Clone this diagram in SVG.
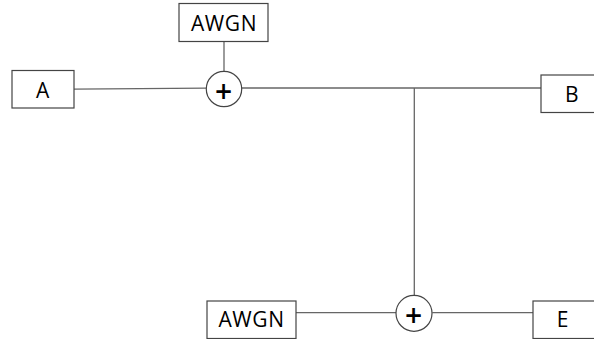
<svg xmlns="http://www.w3.org/2000/svg" width="594" height="339" viewBox="0 0 594 339">
  <style>
    .box { fill: #ffffff; stroke: #444444; stroke-width: 1.2; }
    .sum { fill: #ffffff; stroke: #444444; stroke-width: 1.2; }
    .wire { fill: none; stroke: #666666; stroke-width: 1.3; }
    .label { font-family: "Open Sans", "Noto Sans", sans-serif; font-size: 21px; fill: #000000; text-anchor: middle; letter-spacing: 0.6px; }
    .plus { font-family: "Open Sans", "Noto Sans", sans-serif; font-size: 30px; font-weight: 600; fill: #000000; text-anchor: middle; }
  </style>
  <rect width="594" height="339" fill="#ffffff"/>

  <g id="connectors">
    <line class="wire" x1="74" y1="89.2" x2="206" y2="88.2"/>
    <line class="wire" x1="224" y1="41.5" x2="224" y2="71"/>
    <line class="wire" x1="242" y1="88" x2="541" y2="88"/>
    <line class="wire" x1="414.3" y1="88" x2="414.3" y2="295.5"/>
    <line class="wire" x1="296" y1="312.7" x2="396" y2="312.7"/>
    <line class="wire" x1="432.3" y1="312.7" x2="533" y2="312.7"/>
  </g>

  <g id="node-a">
    <rect class="box" x="12" y="70.5" width="62" height="37.5"/>
    <text class="label" x="43" y="97.5">A</text>
  </g>

  <g id="node-awgn-top">
    <rect class="box" x="179" y="3.5" width="89" height="38"/>
    <text class="label" x="224" y="30.5">AWGN</text>
  </g>

  <g id="node-sum-top">
    <circle class="sum" cx="224" cy="89" r="17.7"/>
    <text class="plus" x="223.5" y="101.5">+</text>
  </g>

  <g id="node-b">
    <rect class="box" x="541" y="75" width="60" height="37.5"/>
    <text class="label" x="572" y="101.5">B</text>
  </g>

  <g id="node-awgn-bottom">
    <rect class="box" x="207" y="301" width="89" height="37.5"/>
    <text class="label" x="251.5" y="326.5">AWGN</text>
  </g>

  <g id="node-sum-bottom">
    <circle class="sum" cx="414" cy="313.3" r="18"/>
    <text class="plus" x="413.5" y="325.5">+</text>
  </g>

  <g id="node-e">
    <rect class="box" x="533" y="301" width="68" height="37.5"/>
    <text class="label" x="563" y="326.5">E</text>
  </g>
</svg>
